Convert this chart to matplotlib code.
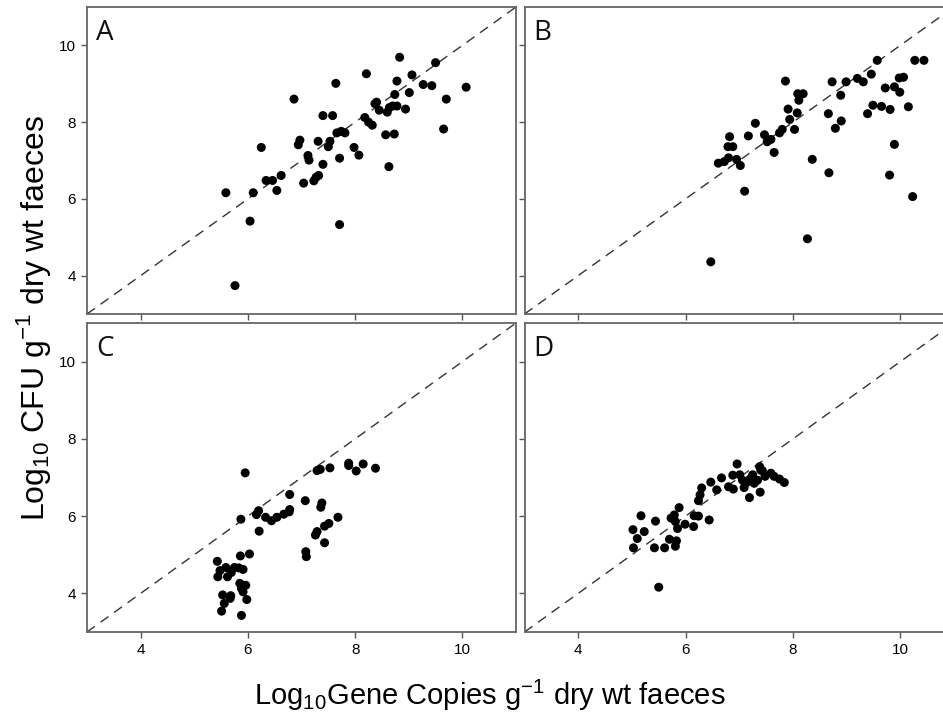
import numpy as np
import matplotlib.pyplot as plt

# Panel A
a_x = [5.59, 5.76, 6.04, 6.10, 6.25, 6.34, 6.46, 6.54, 6.62, 6.86, 6.94, 6.97, 7.04, 7.12, 7.14,
       7.23, 7.27, 7.32, 7.31, 7.40, 7.40, 7.50, 7.53, 7.58, 7.64, 7.66, 7.71, 7.71, 7.74, 7.81,
       7.98, 8.07, 8.18, 8.21, 8.25, 8.32, 8.37, 8.40, 8.45, 8.57, 8.60, 8.63, 8.64, 8.70, 8.73,
       8.74, 8.78, 8.78, 8.83, 8.94, 9.01, 9.06, 9.27, 9.43, 9.50, 9.65, 9.70, 10.07]
a_y = [6.16, 3.74, 5.42, 6.16, 7.34, 6.48, 6.48, 6.22, 6.61, 8.60, 7.41, 7.53, 6.41, 7.13, 7.01,
       6.47, 6.56, 6.61, 7.50, 8.17, 6.90, 7.36, 7.50, 8.17, 9.01, 7.72, 7.06, 5.33, 7.76, 7.72,
       7.34, 7.14, 8.12, 9.26, 8.00, 7.92, 8.48, 8.52, 8.31, 7.67, 8.26, 6.84, 8.38, 8.42, 7.69,
       8.72, 9.07, 8.42, 9.69, 8.34, 8.77, 9.23, 8.98, 8.95, 9.55, 7.82, 8.60, 8.91]

# Panel B
b_x = [6.47, 6.61, 6.72, 6.80, 6.79, 6.82, 6.88, 6.95, 7.02, 7.10, 7.17, 7.30, 7.47, 7.52, 7.59,
       7.65, 7.75, 7.80, 7.86, 7.91, 7.94, 8.03, 8.08, 8.09, 8.11, 8.19, 8.27, 8.36, 8.66, 8.67,
       8.73, 8.79, 8.89, 8.90, 8.99, 9.20, 9.31, 9.39, 9.46, 9.49, 9.57, 9.65, 9.72, 9.80, 9.81,
       9.89, 9.89, 9.98, 9.99, 10.06, 10.15, 10.23, 10.27, 10.44]
b_y = [4.36, 6.93, 6.97, 7.07, 7.36, 7.62, 7.36, 7.03, 6.87, 6.20, 7.64, 7.97, 7.67, 7.49, 7.55,
       7.21, 7.72, 7.81, 9.07, 8.34, 8.07, 7.81, 8.24, 8.74, 8.57, 8.74, 4.96, 7.03, 8.22, 6.68,
       9.05, 7.84, 8.70, 8.03, 9.05, 9.14, 9.05, 8.22, 9.25, 8.44, 9.61, 8.41, 8.89, 6.62, 8.33,
       7.42, 8.92, 9.15, 8.78, 9.17, 8.40, 6.06, 9.61, 9.61]

# Panel C
c_x = [5.43, 5.48, 5.44, 5.59, 5.62, 5.69, 5.75, 5.83, 5.91, 5.86, 6.03, 5.53, 5.56, 5.51, 5.68,
       5.67, 5.85, 5.88, 5.91, 5.96, 5.98, 5.88, 5.95, 5.87, 6.16, 6.20, 6.21, 6.33, 6.44, 6.54,
       6.67, 6.77, 6.78, 6.78, 7.07, 7.08, 7.09, 7.26, 7.29, 7.29, 7.35, 7.38, 7.36, 7.43, 7.43,
       7.51, 7.53, 7.68, 7.88, 7.88, 8.02, 8.15, 8.38]
c_y = [4.83, 4.59, 4.43, 4.67, 4.43, 4.54, 4.67, 4.66, 4.62, 4.97, 5.02, 3.96, 3.74, 3.54, 3.94,
       3.87, 4.26, 4.13, 4.04, 4.21, 3.84, 3.43, 7.12, 5.92, 6.04, 6.14, 5.61, 5.97, 5.88, 5.97,
       6.05, 6.11, 6.17, 6.56, 6.40, 5.08, 4.95, 5.51, 5.60, 7.18, 7.21, 6.34, 6.23, 5.31, 5.74,
       5.81, 7.25, 5.97, 7.37, 7.31, 7.17, 7.35, 7.24]

# Panel D
d_x = [5.02, 5.03, 5.10, 5.17, 5.23, 5.42, 5.44, 5.50, 5.61, 5.70, 5.73, 5.79, 5.81, 5.83, 5.81,
       5.85, 5.88, 5.99, 6.15, 6.16, 6.24, 6.24, 6.27, 6.30, 6.44, 6.47, 6.58, 6.67, 6.80, 6.88,
       6.89, 6.96, 7.01, 7.06, 7.09, 7.14, 7.19, 7.20, 7.28, 7.34, 7.39, 7.38, 7.43, 7.48, 7.59,
       7.65, 7.75, 7.84, 7.40, 7.25]
d_y = [5.65, 5.18, 5.42, 6.01, 5.60, 5.18, 5.87, 4.16, 5.18, 5.40, 5.95, 6.03, 5.22, 5.36, 5.86,
       5.68, 6.22, 5.79, 5.73, 6.01, 6.00, 6.40, 6.55, 6.73, 5.90, 6.88, 6.68, 6.99, 6.76, 7.06,
       6.70, 7.35, 7.07, 6.93, 6.74, 6.87, 6.48, 6.96, 6.85, 6.93, 6.62, 7.28, 7.18, 7.03, 7.11,
       7.03, 6.96, 6.87, 7.19, 7.07]

paneles = ["A", "B", "C", "D"]
datos = [(a_x, a_y), (b_x, b_y), (c_x, c_y), (d_x, d_y)]
ticks = [4, 6, 8, 10]

plt.rcParams['font.family'] = ['Liberation Sans', 'DejaVu Sans']
plt.rcParams['mathtext.fontset'] = 'custom'
plt.rcParams['mathtext.rm'] = 'Liberation Sans'

fig = plt.figure(figsize=(9.43, 7.15), dpi=100)

W, H = 943, 715
# posiciones en pixeles: (izq, arriba, ancho, alto)
cajas = [(87, 7, 429, 307), (524.5, 7, 429.5, 307),
         (87, 323, 429, 309), (524.5, 323, 429.5, 309)]

for i, (letra, (xs, ys), caja) in enumerate(zip(paneles, datos, cajas)):
    l, t, w, h = caja
    ax = fig.add_axes([l / W, (H - t - h) / H, w / W, h / H])
    # linea 1:1
    ax.plot([3, 11], [3, 11], linestyle=(0, (7, 5)), color='#333333', linewidth=1.0, zorder=1)
    ax.scatter(xs, ys, s=42, color='black', edgecolors='none', zorder=2)
    ax.set_xlim(3, 11)
    ax.set_ylim(3, 11)
    ax.set_xticks(ticks)
    ax.set_yticks(ticks)
    ax.tick_params(direction='out', length=4, width=1, color='#555555',
                   labelsize=11, pad=4)
    if i % 2 == 1:
        ax.tick_params(labelleft=False)
    if i < 2:
        ax.tick_params(labelbottom=False)
    for sp in ax.spines.values():
        sp.set_color('#666666')
        sp.set_linewidth(1.3)
    ax.text(0.021, 0.962, letra, transform=ax.transAxes, ha='left', va='top',
            fontsize=20, family='Open Sans', color='#111111')

fig.text(490 / W, (H - 705) / H,
         r"Log$_{\mathregular{10}}$Gene Copies g$^{\mathregular{-1}}$ dry wt faeces",
         ha='center', va='baseline', fontsize=21)
fig.text(34 / W, (H - 318) / H,
         r"Log$_{\mathregular{10}}$ CFU g$^{\mathregular{-1}}$ dry wt faeces",
         ha='center', va='center', rotation=90, fontsize=23)

fig.savefig("out.png", dpi=100)
